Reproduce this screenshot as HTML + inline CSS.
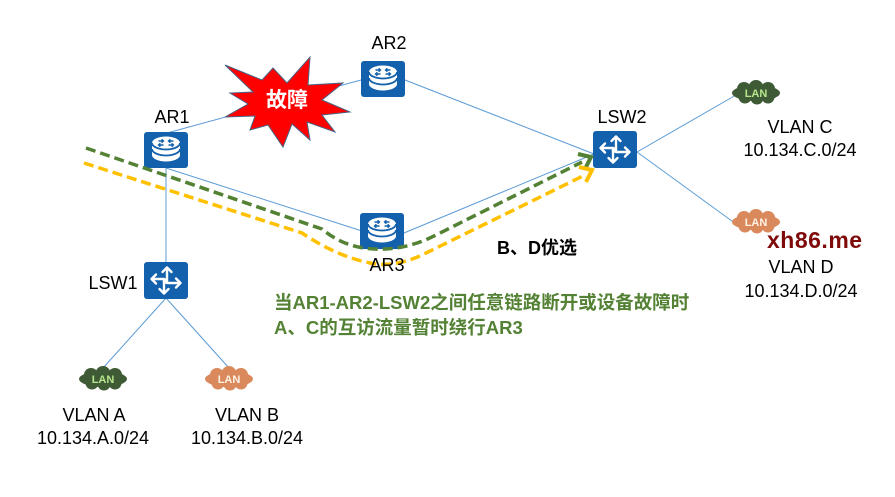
<!DOCTYPE html>
<html><head><meta charset="utf-8"><style>
html,body{margin:0;padding:0;background:#fff;}
svg{display:block;}
text{font-family:"Liberation Sans","Noto Sans CJK SC",sans-serif;}
</style></head><body>
<svg width="895" height="497" viewBox="0 0 895 497" xmlns="http://www.w3.org/2000/svg">
<defs>
<g id="router">
<rect x="0" y="0" width="44" height="36" rx="3" fill="#1360ac"/>
<path d="M8,11 A14,6.5 0 0 1 36,11 L36,23 A14,6.5 0 0 1 8,23 Z" fill="#fff"/>
<path d="M8,11 A14,6.5 0 0 0 36,11" fill="none" stroke="#1360ac" stroke-width="1.8"/>
<path d="M8,17 A14,6.5 0 0 0 36,17" fill="none" stroke="#1360ac" stroke-width="1.8"/>
<path d="M14.5,9 L19.5,9 M17.6,7.3 L19.5,9 L17.6,10.7 M29.5,9 L24.5,9 M26.4,7.3 L24.5,9 L26.4,10.7 M19.5,13 L14.5,13 M16.4,11.3 L14.5,13 L16.4,14.7 M24.5,13 L29.5,13 M27.6,11.3 L29.5,13 L27.6,14.7" fill="none" stroke="#1360ac" stroke-width="1.4"/>
</g>
<g id="switch">
<rect x="0" y="0" width="44" height="37" rx="3" fill="#1360ac"/>
<g fill="none" stroke="#fff" stroke-width="2.4" stroke-linecap="round" stroke-linejoin="round">
<path d="M23,5.5 L23,18 M18.5,10 L23,5.5 L27.5,10"/>
<path d="M20,19 L20,31.5 M15.5,27 L20,31.5 L24.5,27"/>
<path d="M7.5,17 L20,17 M12,12.5 L7.5,17 L12,21.5"/>
<path d="M23,21 L36.5,21 M32,16.5 L36.5,21 L32,25.5"/>
</g>
<circle cx="21.5" cy="19" r="2.8" fill="#fff"/>
</g>
<g id="cloud">
<ellipse cx="0" cy="0" rx="24" ry="8"/>
<circle cx="-12" cy="-4" r="7"/>
<circle cx="0" cy="-5.5" r="7.5"/>
<circle cx="12" cy="-4" r="7"/>
<circle cx="-11" cy="4" r="6.5"/>
<circle cx="1" cy="5" r="6.5"/>
<circle cx="12" cy="4" r="6.5"/>
</g>
</defs>

<!-- thin links -->
<g stroke="#5b9bd5" stroke-width="1" fill="none">
<line x1="167" y1="133" x2="361" y2="80"/>
<line x1="405" y1="80" x2="594" y2="154"/>
<line x1="166" y1="168" x2="362" y2="231"/>
<line x1="404" y1="233" x2="594" y2="154"/>
<line x1="166" y1="168" x2="166" y2="263"/>
<line x1="166" y1="298" x2="103" y2="368"/>
<line x1="166" y1="298" x2="229" y2="368"/>
<line x1="637" y1="152" x2="736" y2="95"/>
<line x1="637" y1="152" x2="736" y2="224"/>
</g>

<!-- burst -->
<polygon points="225,65 262,80 273,68 287,83 310,57 308,85 343,83 322,100 350,112 322,115 335,132 307,122 310,140 292,124 283,147 268,125 250,130 255,116 225,117 248,104 230,93 253,92" fill="#ff0000" stroke="#4a6384" stroke-width="1"/>
<text x="287" y="107" font-size="21" font-weight="bold" fill="#fff" text-anchor="middle">故障</text>

<!-- devices -->
<use href="#router" x="361" y="61"/>
<use href="#router" x="144" y="132"/>
<use href="#router" x="360" y="213"/>
<use href="#switch" x="593" y="131"/>
<use href="#switch" x="144" y="262"/>

<!-- dashed paths -->
<g fill="none" stroke-width="3.5" stroke-dasharray="10 5">
<path d="M86,148 L322,229 Q348,251 385,249 Q412,248 440,233 L582,162" stroke="#548235"/>
<path d="M84,163 L302,233 Q336,256 370,263 Q392,268 420,256 L585,175" stroke="#ffc000"/>
</g>
<polyline points="578,154 591,157 585,169" fill="none" stroke="#548235" stroke-width="4"/>
<polyline points="579,167 592,170 586,182" fill="none" stroke="#ffc000" stroke-width="4"/>

<!-- clouds -->
<g fill="#3e5b36"><use href="#cloud" x="756" y="93"/><use href="#cloud" x="103" y="379"/></g>
<g fill="#d9895c"><use href="#cloud" x="756" y="222"/><use href="#cloud" x="229" y="379"/></g>
<g font-size="11" font-weight="bold" text-anchor="middle">
<text x="756" y="97" fill="#b8e68e">LAN</text>
<text x="103" y="383" fill="#b8e68e">LAN</text>
<text x="756" y="226" fill="#fff3e6">LAN</text>
<text x="229" y="383" fill="#fff3e6">LAN</text>
</g>

<!-- labels -->
<g font-size="18" fill="#000" text-anchor="middle">
<text x="389" y="49">AR2</text>
<text x="172" y="123">AR1</text>
<text x="387" y="271">AR3</text>
<text x="622" y="123">LSW2</text>
<text x="113" y="289">LSW1</text>
<text x="800" y="133">VLAN C</text>
<text x="800" y="156">10.134.C.0/24</text>
<text x="801" y="273">VLAN D</text>
<text x="801" y="297">10.134.D.0/24</text>
<text x="94" y="421">VLAN A</text>
<text x="93" y="444">10.134.A.0/24</text>
<text x="247" y="421">VLAN B</text>
<text x="247" y="444">10.134.B.0/24</text>
</g>

<text x="497" y="254" font-size="18" font-weight="bold" fill="#000">B、D优选</text>
<text x="274" y="309" font-size="18.5" font-weight="bold" fill="#548235">当AR1-AR2-LSW2之间任意链路断开或设备故障时</text>
<text x="274" y="334" font-size="18.5" font-weight="bold" fill="#548235">A、C的互访流量暂时绕行AR3</text>
<text x="767" y="248" font-size="23" font-weight="bold" fill="#7f0a0a" letter-spacing="0.5">xh86.me</text>
</svg>
</body></html>
